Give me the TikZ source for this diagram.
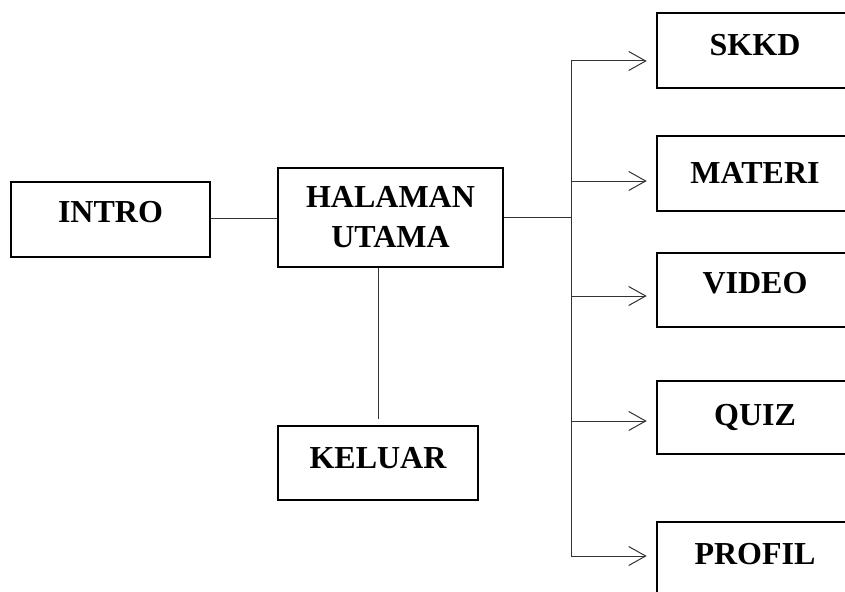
\documentclass[tikz,border=0pt]{standalone}
\usepackage{fontspec}
\setmainfont{Liberation Serif}
\usetikzlibrary{arrows.meta}
\tikzset{
  box/.style={draw=black, line width=2.6pt, rectangle, inner sep=0pt,
    font=\fontsize{32}{40}\selectfont\bfseries, align=center},
  conn/.style={draw=black!80, line width=1pt},
  arr/.style={conn, -{Straight Barb[length=17pt,width=19pt,line width=1pt]}, shorten >=9pt},
}
\begin{document}
\begin{tikzpicture}[x=1pt,y=-1pt]
\useasboundingbox (0,0) rectangle (845,591);
\clip (0,0) rectangle (845,591);
% boxes (x, y in pixels, y downward)
\node[box, minimum width=199pt, minimum height=75pt, text depth=15pt] (intro) at (110.5,219.5) {INTRO};
\node[box, minimum width=225pt, minimum height=99pt] (utama) at (390.5,217.5) {HALAMAN\\UTAMA};
\node[box, minimum width=200pt, minimum height=74pt, text depth=10pt] (keluar) at (378,463) {KELUAR};
\node[box, minimum width=196pt, minimum height=75pt, text depth=11pt] (skkd) at (755,50.5) {SKKD};
\node[box, minimum width=196pt, minimum height=75pt, text depth=1pt] (materi) at (755,173.5) {MATERI};
\node[box, minimum width=196pt, minimum height=74pt, text depth=14pt] (video) at (755,290) {VIDEO};
\node[box, minimum width=196pt, minimum height=73pt] (quiz) at (755,417.5) {QUIZ};
\node[box, minimum width=196pt, minimum height=75pt, text depth=11pt] (profil) at (755,559.5) {PROFIL};
% connectors
\draw[conn] (intro.east |- 0,218) -- (utama.west |- 0,218);
\coordinate (jn) at (571,217);
\draw[conn] (utama.east |- jn) -- (jn);
\draw[conn] (utama.south -| keluar.north) -- ([yshift=6pt]keluar.north);
\coordinate (t1) at (571,61);
\coordinate (t2) at (571,181);
\coordinate (t3) at (571,296);
\coordinate (t4) at (571,421);
\coordinate (t5) at (571,556);
\draw[conn] (t1) -- (t5);
\draw[arr] (t1) -- (t1 -| skkd.west);
\draw[arr] (t2) -- (t2 -| materi.west);
\draw[arr] (t3) -- (t3 -| video.west);
\draw[arr] (t4) -- (t4 -| quiz.west);
\draw[arr] (t5) -- (t5 -| profil.west);
\end{tikzpicture}
\end{document}
